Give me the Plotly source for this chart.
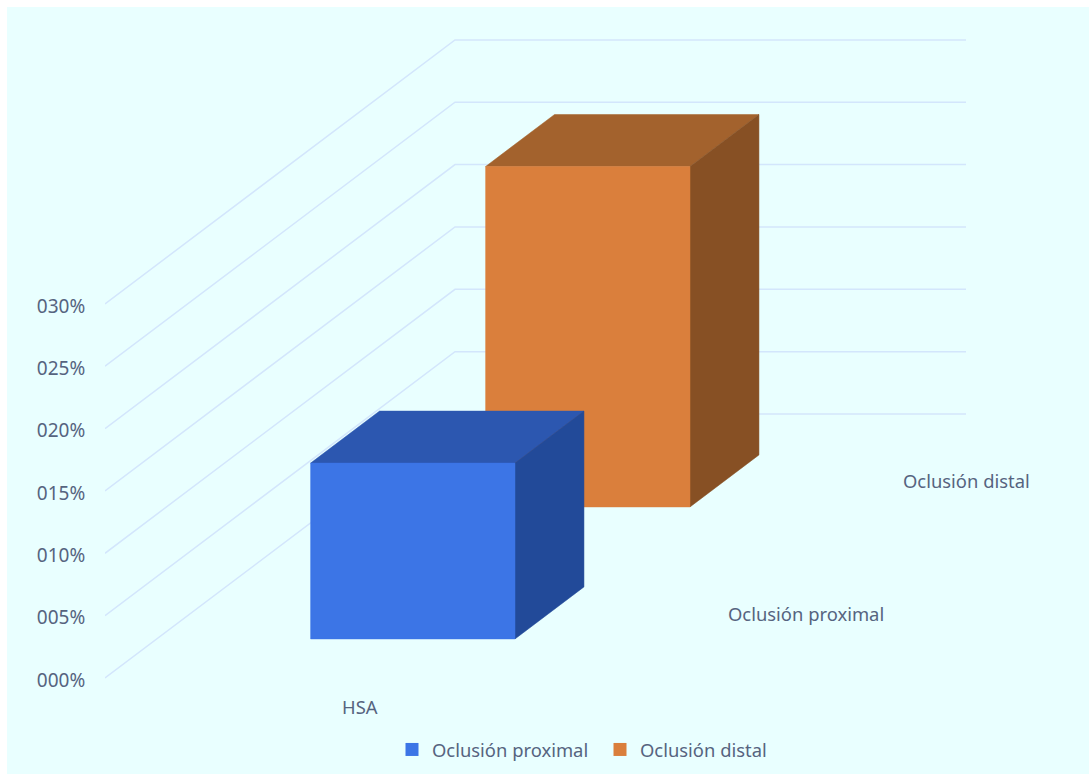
import plotly.graph_objects as go

# ---- data ----
categories = ["HSA"]
series_names = ["Oclusión proximal", "Oclusión distal"]
series_values = [14.1, 27.3]
tick_values = [0, 5, 10, 15, 20, 25, 30]
tick_labels = ["000%", "005%", "010%", "015%", "020%", "025%", "030%"]

# ---- styles ----
front_colors = ["#3C75E6", "#DA7F3C"]
top_colors = ["#2C57B0", "#A3622D"]
side_colors = ["#224A99", "#875024"]
grid_color = "#D3E6FC"
bg_color = "#E9FFFF"
text_color = "#56647F"
font_family = "Noto Sans"
label_size = 18.4

# ---- oblique projection of the 3-D frame ----
X0, WALL_W, DEPTH_X = 105, 511, 350      # x is in page pixels
PX_PER_PCT = 12.47
ZERO_PX = 678
DEPTH_Y = 264 / PX_PER_PCT               # rise of the floor, in percent
slot_front = [0.148, 0.648]
slot_back = [0.345, 0.845]
LAT0, LAT1 = 0.301, 0.701


def project(lat, depth, value):
    return X0 + WALL_W * lat + DEPTH_X * depth, value + DEPTH_Y * depth


def face(corners, color):
    pts = [project(*c) for c in corners]
    pts.append(pts[0])
    return go.Scatter(
        x=[p[0] for p in pts], y=[p[1] for p in pts], mode="lines",
        fill="toself", fillcolor=color, line=dict(color=color, width=0.5),
        hoverinfo="skip", showlegend=False,
    )


fig = go.Figure()

# gridlines: side wall + back wall
for v in tick_values:
    a = project(0, 0, v)
    b = project(0, 1, v)
    c = project(1, 1, v)
    fig.add_trace(go.Scatter(
        x=[a[0], b[0], c[0]], y=[a[1], b[1], c[1]], mode="lines",
        line=dict(color=grid_color, width=1.5), hoverinfo="skip", showlegend=False,
    ))

# bars, back to front
for i in [1, 0]:
    d0, d1, v = slot_front[i], slot_back[i], series_values[i]
    fig.add_trace(face([(LAT0, d0, v), (LAT1, d0, v), (LAT1, d1, v), (LAT0, d1, v)], top_colors[i]))
    fig.add_trace(face([(LAT1, d0, 0), (LAT1, d1, 0), (LAT1, d1, v), (LAT1, d0, v)], side_colors[i]))
    fig.add_trace(face([(LAT0, d0, 0), (LAT1, d0, 0), (LAT1, d0, v), (LAT0, d0, v)], front_colors[i]))

# legend entries
for name, col in zip(series_names, front_colors):
    fig.add_trace(go.Scatter(
        x=[None], y=[None], mode="markers", name=name,
        marker=dict(symbol="square", size=13, color=col),
    ))

# category and series labels on the floor
label_texts = [categories[0], series_names[0], series_names[1]]
label_x = [360, 806, 966]
label_ypx = [706, 613, 480]
for t, lx, ly in zip(label_texts, label_x, label_ypx):
    fig.add_annotation(
        x=lx, y=(ZERO_PX - ly) / PX_PER_PCT, text=t, showarrow=False,
        xanchor="center", yanchor="middle",
        font=dict(family=font_family, size=label_size, color=text_color),
    )

TOP, LEFT = 7, 7
W, H = 1089 - LEFT, 774 - TOP
ML = X0 - LEFT

fig.update_layout(
    width=W, height=H, autosize=False,
    paper_bgcolor=bg_color, plot_bgcolor=bg_color,
    margin=dict(l=ML, r=0, t=0, b=0),
    font=dict(family=font_family, size=label_size, color=text_color),
    xaxis=dict(range=[X0, 1089], visible=False, fixedrange=True),
    yaxis=dict(
        range=[(ZERO_PX - 774) / PX_PER_PCT, (ZERO_PX - TOP) / PX_PER_PCT],
        tickmode="array", tickvals=tick_values, ticktext=tick_labels,
        tickfont=dict(family=font_family, size=19, color=text_color),
        showgrid=False, zeroline=False, showline=False,
        ticks="outside", ticklen=15, tickcolor="rgba(0,0,0,0)",
        ticklabelshift=2,
        automargin=False, fixedrange=True,
    ),
    legend=dict(
        orientation="h", x=(392 - X0) / (1089 - X0), xref="paper",
        y=1 - (731 - TOP) / H, yref="paper", xanchor="left", yanchor="top",
        bgcolor="rgba(0,0,0,0)",
        font=dict(family=font_family, size=label_size, color=text_color),
        entrywidth=163, entrywidthmode="pixels",
        itemclick=False, itemdoubleclick=False,
    ),
    hovermode=False,
)

fig.write_html(
    "out.html",
    config={"displayModeBar": False},
    post_script="document.body.style.margin='7px 0 0 7px';document.body.style.overflow='hidden';document.documentElement.style.overflow='hidden';",
)
